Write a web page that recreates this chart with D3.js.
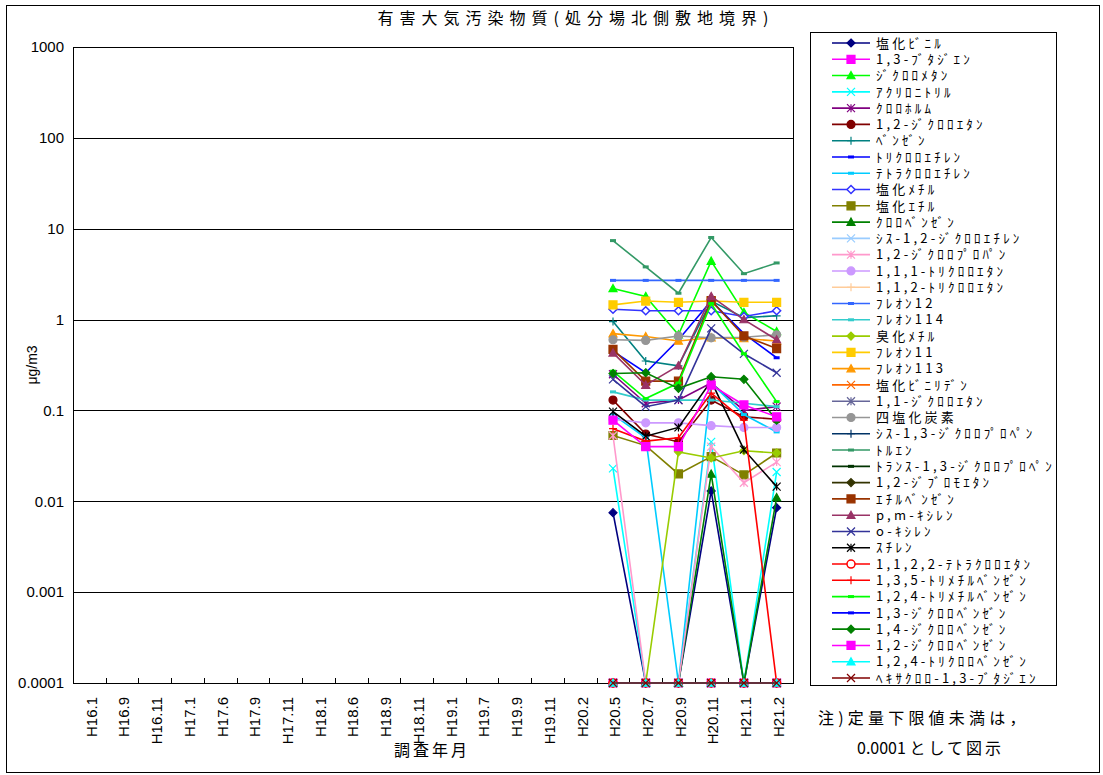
<!DOCTYPE html>
<html>
<head>
<meta charset="utf-8">
<script src="https://cdn.jsdelivr.net/npm/d3@7"></script>
<style>
body { margin: 0; background: #fff; }
text { font-family: "Liberation Sans", Arial, "Noto Sans CJK JP", sans-serif; fill: #000; }
.jp { font-family: "Noto Sans CJK JP", "Liberation Sans", sans-serif; }
</style>
</head>
<body>
<svg width="1103" height="775"></svg>
<script>
// survey months on the x axis
var months = ["H16.1", "H16.9", "H16.11", "H17.1", "H17.6", "H17.9", "H17.11", "H18.1",
  "H18.6", "H18.9", "H18.11", "H19.1", "H19.7", "H19.9", "H19.11", "H20.2",
  "H20.5", "H20.7", "H20.9", "H20.11", "H21.1", "H21.2"];
// months that actually have measurements
var sampled = ["H20.5", "H20.7", "H20.9", "H20.11", "H21.1", "H21.2"];

var names = ["塩化ﾋﾞﾆﾙ", "1,3-ﾌﾞﾀｼﾞｴﾝ", "ｼﾞｸﾛﾛﾒﾀﾝ", "ｱｸﾘﾛﾆﾄﾘﾙ", "ｸﾛﾛﾎﾙﾑ",
  "1,2-ｼﾞｸﾛﾛｴﾀﾝ", "ﾍﾞﾝｾﾞﾝ", "ﾄﾘｸﾛﾛｴﾁﾚﾝ", "ﾃﾄﾗｸﾛﾛｴﾁﾚﾝ", "塩化ﾒﾁﾙ",
  "塩化ｴﾁﾙ", "ｸﾛﾛﾍﾞﾝｾﾞﾝ", "ｼｽ-1,2-ｼﾞｸﾛﾛｴﾁﾚﾝ", "1,2-ｼﾞｸﾛﾛﾌﾟﾛﾊﾟﾝ", "1,1,1-ﾄﾘｸﾛﾛｴﾀﾝ",
  "1,1,2-ﾄﾘｸﾛﾛｴﾀﾝ", "ﾌﾚｵﾝ12", "ﾌﾚｵﾝ114", "臭化ﾒﾁﾙ", "ﾌﾚｵﾝ11",
  "ﾌﾚｵﾝ113", "塩化ﾋﾞﾆﾘﾃﾞﾝ", "1,1-ｼﾞｸﾛﾛｴﾀﾝ", "四塩化炭素", "ｼｽ-1,3-ｼﾞｸﾛﾛﾌﾟﾛﾍﾟﾝ",
  "ﾄﾙｴﾝ", "ﾄﾗﾝｽ-1,3-ｼﾞｸﾛﾛﾌﾟﾛﾍﾟﾝ", "1,2-ｼﾞﾌﾞﾛﾓｴﾀﾝ", "ｴﾁﾙﾍﾞﾝｾﾞﾝ", "p,m-ｷｼﾚﾝ",
  "o-ｷｼﾚﾝ", "ｽﾁﾚﾝ", "1,1,2,2-ﾃﾄﾗｸﾛﾛｴﾀﾝ", "1,3,5-ﾄﾘﾒﾁﾙﾍﾞﾝｾﾞﾝ", "1,2,4-ﾄﾘﾒﾁﾙﾍﾞﾝｾﾞﾝ",
  "1,3-ｼﾞｸﾛﾛﾍﾞﾝｾﾞﾝ", "1,4-ｼﾞｸﾛﾛﾍﾞﾝｾﾞﾝ", "1,2-ｼﾞｸﾛﾛﾍﾞﾝｾﾞﾝ", "1,2,4-ﾄﾘｸﾛﾛﾍﾞﾝｾﾞﾝ", "ﾍｷｻｸﾛﾛ-1,3-ﾌﾞﾀｼﾞｴﾝ"];

// µg/m3 for H20.5 .. H21.2 (below detection limit plotted as 0.0001)
var values = [
  [0.0075, 0.0001, 0.0001, 0.013, 0.0001, 0.0085],
  [0.0001, 0.0001, 0.0001, 0.0001, 0.0001, 0.0001],
  [2.2, 1.8, 0.68, 4.4, 1.2, 0.74],
  [0.023, 0.0001, 0.0001, 0.045, 0.0001, 0.021],
  [0.25, 0.12, 0.13, 0.2, 0.1, 0.11],
  [0.13, 0.055, 0.045, 0.13, 0.085, 0.08],
  [0.95, 0.35, 0.31, 1.6, 1.05, 1.1],
  [0.45, 0.26, 0.6, 1.6, 0.7, 0.38],
  [0.09, 0.05, 0.0001, 0.2, 0.09, 0.058],
  [1.3, 1.25, 1.25, 1.25, 1.08, 1.25],
  [0.053, 0.041, 0.02, 0.031, 0.0195, 0.034],
  [0.0001, 0.0001, 0.0001, 0.02, 0.0001, 0.011],
  [0.0001, 0.0001, 0.0001, 0.0001, 0.0001, 0.0001],
  [0.053, 0.0001, 0.0001, 0.04, 0.016, 0.027],
  [0.08, 0.073, 0.073, 0.068, 0.065, 0.065],
  [0.0001, 0.0001, 0.0001, 0.0001, 0.0001, 0.0001],
  [2.7, 2.7, 2.7, 2.7, 2.7, 2.7],
  [0.16, 0.13, 0.13, 0.13, 0.12, 0.11],
  [0.0001, 0.0001, 0.035, 0.03, 0.036, 0.034],
  [1.45, 1.6, 1.55, 1.6, 1.55, 1.55],
  [0.7, 0.65, 0.58, 0.63, 0.62, 0.58],
  [0.0001, 0.0001, 0.0001, 0.0001, 0.0001, 0.0001],
  [0.0001, 0.0001, 0.0001, 0.0001, 0.0001, 0.0001],
  [0.6, 0.59, 0.66, 0.63, 0.64, 0.68],
  [0.0001, 0.0001, 0.0001, 0.0001, 0.0001, 0.0001],
  [7.4, 3.8, 1.95, 8.0, 3.2, 4.2],
  [0.0001, 0.0001, 0.0001, 0.0001, 0.0001, 0.0001],
  [0.0001, 0.0001, 0.0001, 0.0001, 0.0001, 0.0001],
  [0.47, 0.21, 0.21, 1.62, 0.66, 0.48],
  [0.43, 0.19, 0.31, 1.8, 1.0, 0.6],
  [0.22, 0.11, 0.13, 0.8, 0.42, 0.26],
  [0.097, 0.052, 0.065, 0.21, 0.037, 0.0145],
  [0.0001, 0.0001, 0.0001, 0.0001, 0.0001, 0.0001],
  [0.063, 0.046, 0.05, 0.155, 0.078, 0.0001],
  [0.27, 0.135, 0.2, 1.5, 0.42, 0.125],
  [0.0001, 0.0001, 0.0001, 0.0001, 0.0001, 0.0001],
  [0.255, 0.26, 0.175, 0.235, 0.22, 0.078],
  [0.078, 0.04, 0.04, 0.19, 0.115, 0.085],
  [0.0001, 0.0001, 0.0001, 0.0001, 0.0001, 0.0001],
  [0.0001, 0.0001, 0.0001, 0.0001, 0.0001, 0.0001]
];

var yTicks = [0.0001, 0.001, 0.01, 0.1, 1, 10, 100, 1000];
var yTickLabels = ["0.0001", "0.001", "0.01", "0.1", "1", "10", "100", "1000"];

// styles (Excel default palette order)
var colors = ["#000080", "#FF00FF", "#00FF00", "#00FFFF", "#800080", "#800000", "#008080", "#0000FF",
  "#00CCFF", "#3333FF", "#808000", "#008000", "#99CCFF", "#FF99CC", "#CC99FF", "#FFCC99",
  "#3366FF", "#33CCCC", "#99CC00", "#FFCC00", "#FF9900", "#FF6600", "#666699", "#969696",
  "#003366", "#339966", "#003300", "#333300", "#993300", "#993366", "#333399", "#000000",
  "#FF0000", "#FF0000", "#00FF00", "#0000FF", "#008000", "#FF00FF", "#00FFFF", "#800000"];
var markers = ["diamond", "square", "triangle", "x", "star", "circle", "plus", "dash",
  "dash", "odiamond", "square", "triangle", "x", "star", "circle", "plus",
  "dash", "dash", "diamond", "square", "triangle", "x", "star", "circle",
  "plus", "dash", "dash", "diamond", "square", "triangle", "x", "star",
  "ocircle", "plus", "dash", "dash", "diamond", "square", "triangle", "x"];

var svg = d3.select("svg"),
    plotLeft = 73, plotRight = 793, plotTop = 47, plotBottom = 683;

var x = d3.scaleBand().domain(months).range([plotLeft, plotRight]);
var y = d3.scaleLog().domain([0.0001, 1000]).range([plotBottom, plotTop]);
function cx(m) { return x(m) + x.bandwidth() / 2; }

// outer frame
svg.append("rect").attr("x", 6.5).attr("y", 5.5).attr("width", 1093).attr("height", 767)
  .attr("fill", "none").attr("stroke", "#000");

// title
svg.append("text").attr("class", "jp").attr("x", 576).attr("y", 24)
  .attr("text-anchor", "middle").style("font-size", "16px").style("letter-spacing", "6px")
  .text("有害大気汚染物質(処分場北側敷地境界)");

// gridlines
svg.append("g").selectAll("line").data(yTicks).enter().append("line")
  .attr("x1", plotLeft).attr("x2", plotRight)
  .attr("y1", function(d) { return Math.round(y(d)) + 0.5; })
  .attr("y2", function(d) { return Math.round(y(d)) + 0.5; })
  .attr("stroke", "#000").attr("stroke-width", 1);

svg.append("rect").attr("x", plotLeft + 0.5).attr("y", plotTop + 0.5)
  .attr("width", plotRight - plotLeft).attr("height", plotBottom - plotTop)
  .attr("fill", "none").attr("stroke", "#000");

// y labels
svg.append("g").selectAll("text").data(yTicks).enter().append("text")
  .attr("x", 64).attr("y", function(d) { return y(d); }).attr("dy", "0.35em")
  .attr("text-anchor", "end").style("font-size", "15px")
  .text(function(d, i) { return yTickLabels[i]; });

svg.append("text").attr("transform", "translate(37,365) rotate(-90)")
  .attr("text-anchor", "middle").style("font-size", "14px").text("μg/m3");

// x ticks between categories, pointing inwards
var bounds = months.map(function(m) { return x(m); }).concat([plotRight]);
svg.append("g").selectAll("line").data(bounds).enter().append("line")
  .attr("x1", function(d) { return Math.round(d) + 0.5; })
  .attr("x2", function(d) { return Math.round(d) + 0.5; })
  .attr("y1", plotBottom).attr("y2", plotBottom - 5).attr("stroke", "#000");

svg.append("g").selectAll("text").data(months).enter().append("text")
  .attr("transform", function(d) { return "translate(" + (cx(d) + 2) + ",697) rotate(-90)"; })
  .attr("dy", "0.35em").attr("text-anchor", "end").style("font-size", "15px")
  .text(function(d) { return d; });

svg.append("text").attr("class", "jp").attr("x", 432).attr("y", 756)
  .attr("text-anchor", "middle").style("font-size", "16px").style("letter-spacing", "3px")
  .text("調査年月");

// marker glyphs
function markerPath(type, s) {
  switch (type) {
    case "diamond": case "odiamond":
      return "M0," + (-s) + "L" + s + ",0L0," + s + "L" + (-s) + ",0Z";
    case "square":
      return "M" + (-s) + "," + (-s) + "h" + 2 * s + "v" + 2 * s + "h" + (-2 * s) + "Z";
    case "triangle":
      return "M0," + (-s) + "L" + s + "," + s * 0.8 + "L" + (-s) + "," + s * 0.8 + "Z";
    case "circle": case "ocircle":
      return d3.symbol(d3.symbolCircle, Math.PI * s * s)();
    case "x":
      return "M" + (-s) + "," + (-s) + "L" + s + "," + s + "M" + (-s) + "," + s + "L" + s + "," + (-s);
    case "star":
      return "M" + (-s) + "," + (-s) + "L" + s + "," + s + "M" + (-s) + "," + s + "L" + s + "," + (-s) +
        "M0," + (-s) + "L0," + s;
    case "plus":
      return "M" + (-s) + ",0L" + s + ",0M0," + (-s) + "L0," + s;
    case "dash":
      return "M" + (-s) + ",0L" + s + ",0";
  }
}
function styleMarker(sel, i) {
  var t = markers[i], c = colors[i];
  var filled = ["diamond", "square", "triangle", "circle"].indexOf(t) >= 0;
  var open = t == "odiamond" || t == "ocircle";
  sel.attr("d", markerPath(t, t == "dash" ? 3 : 4))
    .attr("fill", filled ? c : (open ? "#fff" : "none"))
    .attr("stroke", c)
    .attr("stroke-width", t == "dash" ? 3 : (open ? 1.5 : 1.2));
}

var line = d3.line()
  .x(function(d) { return cx(d.m); })
  .y(function(d) { return y(d.v); });

// series, later ones on top
names.forEach(function(name, i) {
  var pts = sampled.map(function(m, j) { return { m: m, v: values[i][j] }; });
  var g = svg.append("g");
  g.append("path").datum(pts).attr("d", line)
    .attr("fill", "none").attr("stroke", colors[i]).attr("stroke-width", 1.6);
  g.selectAll("path.mk").data(pts).enter().append("path").attr("class", "mk")
    .attr("transform", function(d) { return "translate(" + cx(d.m) + "," + y(d.v) + ")"; })
    .call(styleMarker, i);
});

// legend
var legendY = d3.scalePoint().domain(names).range([43, 678]);
svg.append("rect").attr("x", 810.5).attr("y", 32.5).attr("width", 246).attr("height", 653)
  .attr("fill", "#fff").attr("stroke", "#000");
var items = svg.append("g").selectAll("g").data(names).enter().append("g")
  .attr("transform", function(d) { return "translate(0," + legendY(d) + ")"; });
items.append("line").attr("x1", 832).attr("x2", 870)
  .attr("stroke", function(d, i) { return colors[i]; }).attr("stroke-width", 1.6);
items.append("path").attr("transform", "translate(851,0)")
  .each(function(d, i) { styleMarker(d3.select(this), i); });
items.append("text").attr("class", "jp").attr("x", 876).attr("dy", "0.36em")
  .style("font-size", "13px").style("letter-spacing", "3.2px")
  .text(function(d) { return d; });

// note
svg.append("text").attr("class", "jp").attr("x", 818).attr("y", 724)
  .style("font-size", "16px").style("letter-spacing", "4.2px").text("注)定量下限値未満は，");
var note2 = svg.append("text").attr("class", "jp").attr("x", 857).attr("y", 754)
  .style("font-size", "16px");
note2.append("tspan").text("0.0001 ");
note2.append("tspan").style("letter-spacing", "3px").text("として図示");
</script>
</body>
</html>
